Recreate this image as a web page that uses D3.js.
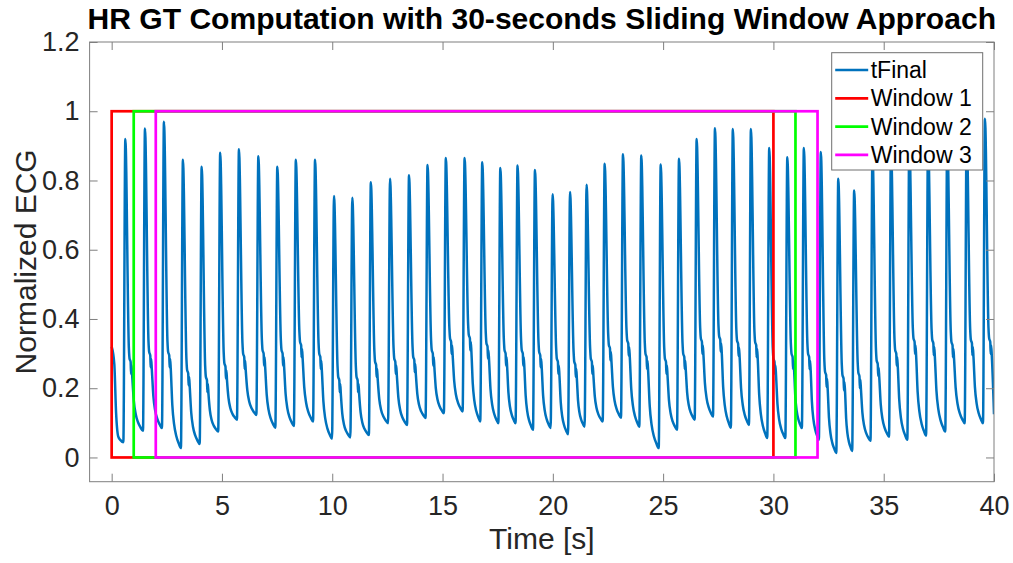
<!DOCTYPE html>
<html>
<head>
<meta charset="utf-8">
<script src="https://cdn.jsdelivr.net/npm/d3@7"></script>
<style>
  body { margin: 0; background: #ffffff; }
  text { font-family: "Liberation Sans", Arial, sans-serif; }
</style>
</head>
<body>
<svg id="chart" width="1013" height="563"></svg>
<script>
// ---- Beat-level readings of the normalized ECG trace (tFinal) ----
const peakTime = [0.62, 1.51, 2.37, 3.23, 4.08, 4.92, 5.77, 6.65, 7.51, 8.35, 9.22, 10.08,
  10.91, 11.75, 12.62, 13.48, 14.32, 15.15, 16.00, 16.80, 17.62, 18.40, 19.19, 19.99,
  20.78, 21.53, 22.35, 23.18, 24.01, 24.89, 25.72, 26.52, 27.35, 28.16, 28.98, 29.81,
  30.63, 31.38, 32.15, 32.94, 33.66, 34.49, 35.33, 36.16, 37.01, 37.88, 38.76, 39.59];
const peakValue = [0.92, 0.95, 0.97, 0.86, 0.84, 0.88, 0.89, 0.87, 0.84, 0.86, 0.86, 0.755,
  0.75, 0.795, 0.805, 0.815, 0.845, 0.865, 0.865, 0.853, 0.836, 0.843, 0.83, 0.76,
  0.767, 0.788, 0.848, 0.876, 0.872, 0.846, 0.863, 0.92, 0.951, 0.949, 0.949, 0.894,
  0.867, 0.894, 0.882, 0.805, 0.771, 0.88, 0.9, 0.92, 0.92, 0.93, 0.94, 0.978];
// minimum reached just before each upstroke
const footValue = [0.044, 0.077, 0.085, 0.027, 0.039, 0.075, 0.109, 0.123, 0.086, 0.091, 0.104, 0.054,
  0.058, 0.065, 0.099, 0.094, 0.114, 0.128, 0.133, 0.104, 0.099, 0.099, 0.08, 0.085,
  0.067, 0.089, 0.104, 0.115, 0.089, 0.027, 0.08, 0.109, 0.118, 0.086, 0.094, 0.056,
  0.056, 0.085, 0.051, 0.013, 0.019, 0.048, 0.06, 0.051, 0.063, 0.075, 0.099, 0.099];
// level of the shoulder / notch after each peak
const shoulderValue = [0.286, 0.305, 0.305, 0.253, 0.233, 0.272, 0.30, 0.31, 0.31, 0.334, 0.30, 0.233,
  0.233, 0.277, 0.286, 0.291, 0.31, 0.344, 0.354, 0.33, 0.31, 0.31, 0.305, 0.286,
  0.277, 0.286, 0.325, 0.339, 0.30, 0.286, 0.30, 0.344, 0.35, 0.338, 0.334, 0.286,
  0.30, 0.30, 0.248, 0.238, 0.245, 0.28, 0.31, 0.344, 0.34, 0.334, 0.34, 0.344];
// samples before the first beat and at the end of the record
const leadInTime = [0, 0.12, 0.2, 0.3, 0.4];
const leadInValue = [0.32, 0.27, 0.13, 0.06, 0.05];
const endTime = 40;
const endValue = 0.125;

// ---- Sliding windows (30 s long, 1 s step) ----
const windowNames = ["Window 1", "Window 2", "Window 3"];
const windowStart = [0, 1, 2];
const windowEnd = [30, 31, 32];
const windowLow = 0;
const windowHigh = 1;

// ---- Axis ticks ----
const xTicks = [0, 5, 10, 15, 20, 25, 30, 35, 40];
const xTickLabels = ["0", "5", "10", "15", "20", "25", "30", "35", "40"];
const yTicks = [0, 0.2, 0.4, 0.6, 0.8, 1, 1.2];
const yTickLabels = ["0", "0.2", "0.4", "0.6", "0.8", "1", "1.2"];

// ---- Styles ----
const traceColor = "#0072BD";
const windowColors = ["#ff0000", "#00ff00", "#ff00ff"];
const axisColor = "#7f7f7f";
const textColor = "#262626";

// ---- Layout ----
const plot = { left: 89.6, right: 994, top: 42, bottom: 481.7 };
const svg = d3.select("#chart");

const x = d3.scaleLinear().domain([-1, 40]).range([plot.left, plot.right]);
const y = d3.scaleLinear().domain([-0.07, 1.2]).range([plot.bottom, plot.top]);

// Build the trace: each beat is outlined by its foot, peak, shoulder with the
// small dicrotic notch, and the decay towards the next foot.
function buildTrace() {
  const pts = leadInTime.map((t, i) => [t, leadInValue[i]]);
  const n = peakTime.length;
  for (let i = 0; i < n; i++) {
    const tp = peakTime[i], vp = peakValue[i], s = shoulderValue[i];
    pts.push([tp - 0.09, footValue[i]]);
    pts.push([tp, vp]);
    pts.push([tp + 0.16, s + 0.03]);
    pts.push([tp + 0.19, s]);
    pts.push([tp + 0.24, s - 0.01]);
    pts.push([tp + 0.26, s - 0.045]);
    pts.push([tp + 0.28, s - 0.02]);
    pts.push([tp + 0.31, s - 0.05]);
    if (i < n - 1) {
      const fn = footValue[i + 1];
      const t0 = tp + 0.31, t1 = peakTime[i + 1] - 0.09;
      const d = t1 - t0, top = s - 0.05 - fn;
      pts.push([t0 + d * 0.15, fn + top * 0.55]);
      pts.push([t0 + d * 0.33, fn + top * 0.3]);
      pts.push([t0 + d * 0.55, fn + top * 0.15]);
      pts.push([t0 + d * 0.78, fn + top * 0.06]);
    }
  }
  return pts.filter(p => p[0] < endTime).concat([[endTime, endValue]]);
}
const trace = buildTrace();

// Clip to the axes box
svg.append("defs").append("clipPath").attr("id", "plotClip")
  .append("rect")
  .attr("x", plot.left).attr("y", plot.top)
  .attr("width", plot.right - plot.left).attr("height", plot.bottom - plot.top);

const body = svg.append("g").attr("clip-path", "url(#plotClip)");

body.append("path")
  .datum(trace)
  .attr("fill", "none")
  .attr("stroke", traceColor)
  .attr("stroke-width", 2.5)
  .attr("stroke-linejoin", "round")
  .attr("d", d3.line().x(d => x(d[0])).y(d => y(d[1])).curve(d3.curveMonotoneX));

windowNames.forEach((name, i) => {
  body.append("rect")
    .attr("x", x(windowStart[i]))
    .attr("y", y(windowHigh))
    .attr("width", x(windowEnd[i]) - x(windowStart[i]))
    .attr("height", y(windowLow) - y(windowHigh))
    .attr("fill", "none")
    .attr("stroke", windowColors[i])
    .attr("stroke-width", 2.7);
});

// ---- Axes (ticks pointing inward, box on all sides) ----
const tickLen = 8;
const fontTick = 27;

const gx = svg.append("g").attr("transform", `translate(0,${plot.bottom})`)
  .call(d3.axisBottom(x).tickValues(xTicks).tickFormat((d, i) => xTickLabels[i])
    .tickSizeInner(-tickLen).tickSizeOuter(0).tickPadding(14));
const gxTop = svg.append("g").attr("transform", `translate(0,${plot.top})`)
  .call(d3.axisTop(x).tickValues(xTicks).tickFormat("").tickSizeInner(-tickLen).tickSizeOuter(0));
const gy = svg.append("g").attr("transform", `translate(${plot.left},0)`)
  .call(d3.axisLeft(y).tickValues(yTicks).tickFormat((d, i) => yTickLabels[i])
    .tickSizeInner(-tickLen).tickSizeOuter(0).tickPadding(10));
const gyRight = svg.append("g").attr("transform", `translate(${plot.right},0)`)
  .call(d3.axisRight(y).tickValues(yTicks).tickFormat("").tickSizeInner(-tickLen).tickSizeOuter(0));

[gx, gxTop, gy, gyRight].forEach(g => {
  g.select(".domain").remove();
  g.selectAll(".tick line").attr("stroke", axisColor).attr("stroke-width", 1);
  g.selectAll(".tick text")
    .attr("fill", textColor)
    .style("font-size", fontTick + "px")
    .style("font-family", '"Liberation Sans", Arial, sans-serif');
});

svg.append("rect")
  .attr("x", plot.left).attr("y", plot.top)
  .attr("width", plot.right - plot.left).attr("height", plot.bottom - plot.top)
  .attr("fill", "none").attr("stroke", axisColor).attr("stroke-width", 1);

// ---- Labels ----
svg.append("text")
  .attr("x", (plot.left + plot.right) / 2).attr("y", 549)
  .attr("text-anchor", "middle").attr("fill", textColor)
  .style("font-size", "30px")
  .text("Time [s]");

svg.append("text")
  .attr("transform", `translate(36,${(plot.top + plot.bottom) / 2}) rotate(-90)`)
  .attr("text-anchor", "middle").attr("fill", textColor)
  .style("font-size", "30px")
  .text("Normalized ECG");

const title = svg.append("text")
  .attr("x", (plot.left + plot.right) / 2).attr("y", 29)
  .attr("text-anchor", "middle").attr("fill", "#000")
  .style("font-size", "30px").style("font-weight", "bold")
  .text("HR GT Computation with 30-seconds Sliding Window Approach");
// keep the title across the axes width
const tw = title.node().getComputedTextLength();
const targetW = 909;
title.attr("transform", `translate(${(plot.left + plot.right) / 2},0) scale(${targetW / tw},1) translate(${-(plot.left + plot.right) / 2},0)`);

// ---- Legend ----
const legend = { x: 831.7, y: 52.7, w: 151, h: 117.3, rowH: 28.3 };
const lg = svg.append("g");
lg.append("rect")
  .attr("x", legend.x).attr("y", legend.y).attr("width", legend.w).attr("height", legend.h)
  .attr("fill", "#fff").attr("stroke", "#6f6f6f").attr("stroke-width", 1);

const legendNames = ["tFinal"].concat(windowNames);
const legendColors = [traceColor].concat(windowColors);
legendNames.forEach((name, i) => {
  const cy = legend.y + 17.3 + i * legend.rowH;
  lg.append("line")
    .attr("x1", legend.x + 3.5).attr("x2", legend.x + 36.5)
    .attr("y1", cy).attr("y2", cy)
    .attr("stroke", legendColors[i]).attr("stroke-width", i === 0 ? 2.5 : 2.7);
  lg.append("text")
    .attr("x", legend.x + 39).attr("y", cy + 8)
    .attr("fill", "#000")
    .style("font-size", "23px")
    .text(name);
});
</script>
</body>
</html>
